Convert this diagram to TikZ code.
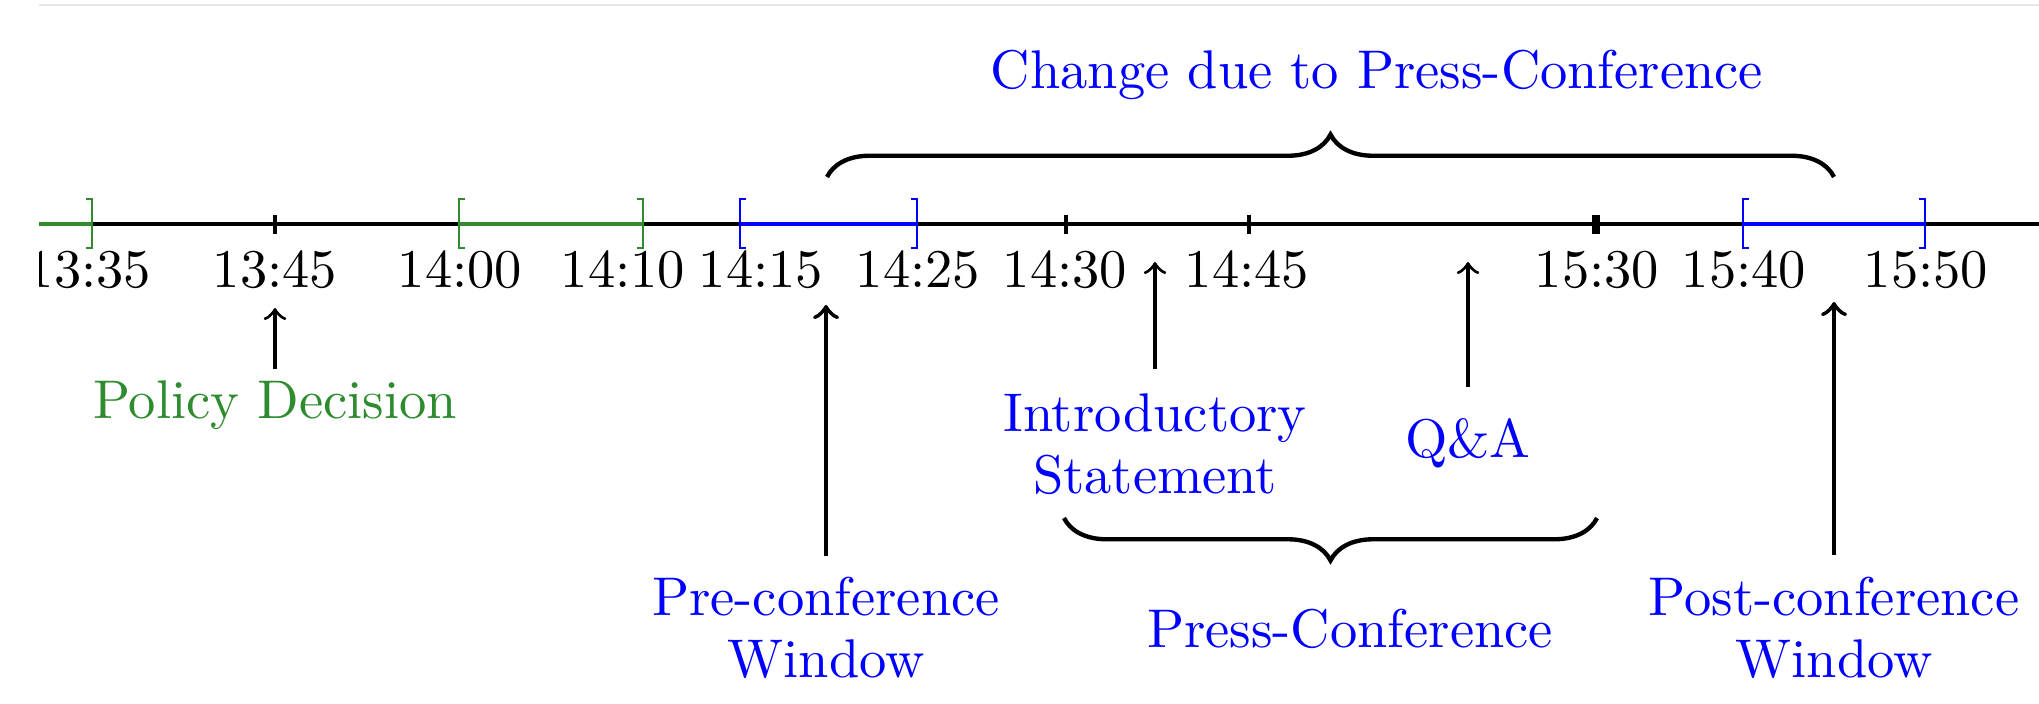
\documentclass[tikz,border=0pt]{standalone}
\usetikzlibrary{decorations.pathreplacing}
\definecolor{pcgreen}{RGB}{46,139,46}
\definecolor{pcblue}{RGB}{0,0,255}
\definecolor{toprule}{RGB}{230,230,230}

\begin{document}
\begin{tikzpicture}[x=0.1835pt, y={(0,-0.1835pt)},
  axisline/.style={line width=0.75pt},
  tickmark/.style={line width=0.7pt},
  bracketline/.style={line width=0.4pt},
  timelabel/.style={anchor=base, inner sep=0pt},
  note/.style={anchor=base, inner sep=0pt, align=center,
               font=\fontsize{10}{11.2}\selectfont},
  pointer/.style={->, line width=0.6pt},
  bigpointer/.style={->, line width=0.8pt},
  bracearc/.style={decorate, decoration={brace, amplitude=7.8pt}, line width=0.8pt},
  openbr/.pic={\draw[bracketline,#1] (6,-25) -- (0,-25) -- (0,24) -- (6,24);},
  closebr/.pic={\draw[bracketline,#1] (-6,-25) -- (0,-25) -- (0,24) -- (-6,24);},
]
\useasboundingbox (0,0) rectangle (2039,703);
\draw[toprule, line width=0.4pt] (39,5) -- (2039,5);

\begin{scope}
\clip (39,0) rectangle (2039,703);

% time axis
\draw[axisline] (0,224) -- (2039,224);

% observation windows
\draw[axisline, pcgreen] (0,224) -- (92,224);
\pic at (92,224) {closebr=pcgreen};
\draw[axisline, pcgreen] (459,224) -- (643,224);
\pic at (459,224) {openbr=pcgreen};
\pic at (643,224) {closebr=pcgreen};
\draw[axisline, pcblue] (740,224) -- (917,224);
\pic at (740,224) {openbr=pcblue};
\pic at (917,224) {closebr=pcblue};
\draw[axisline, pcblue] (1743,224) -- (1925,224);
\pic at (1743,224) {openbr=pcblue};
\pic at (1925,224) {closebr=pcblue};

% ticks
\draw[tickmark] (275,215) -- (275,234);
\draw[tickmark] (1066,215) -- (1066,234);
\draw[tickmark] (1249,215) -- (1249,234);
\draw[line width=1.5pt] (1596,215) -- (1596,234);

% time labels
\node[timelabel] (t1335) at (89,287) {13:35};
\node[timelabel] (t1345) at (275,287) {13:45};
\node[timelabel] (t1400) at (460,287) {14:00};
\node[timelabel] (t1410) at (623,287) {14:10};
\node[timelabel] (t1415) at (761,287) {14:15};
\node[timelabel] (t1425) at (918,287) {14:25};
\node[timelabel] (t1430) at (1065,287) {14:30};
\node[timelabel] (t1445) at (1247,287) {14:45};
\node[timelabel] (t1530) at (1597,287) {15:30};
\node[timelabel] (t1540) at (1744,287) {15:40};
\node[timelabel] (t1550) at (1926,287) {15:50};
\end{scope}

% event labels (base = baseline of the last line)
\node[note, text=pcgreen] (policy) at (275,418) {Policy Decision};
\node[note, text=pcblue] (pre) at (826,677) {Pre-conference\\Window};
\node[note, text=pcblue] (intro) at (1155,493) {Introductory\\Statement};
\node[note, text=pcblue] (qa) at (1468,457) {Q\&A};
\node[note, text=pcblue] (press) at (1350,647) {Press-Conference};
\node[note, text=pcblue] (post) at (1834,677) {Post-conference\\Window};
\node[note, text=pcblue] (change) at (1377,88) {Change due to Press-Conference};

% arrow heads on the axis
\coordinate (policyTip) at (275,308);
\coordinate (preTip) at (826,305);
\coordinate (introTip) at (1155,262);
\coordinate (qaTip) at (1468,262);
\coordinate (postTip) at (1834,302);

\draw[pointer, shorten <=1.8pt] (policy.north) -- (policyTip);
\draw[bigpointer, shorten <=3.7pt] (pre.north) -- (preTip);
\draw[pointer, shorten <=4.4pt] (intro.north) -- (introTip);
\draw[pointer, shorten <=5.5pt] (qa.north) -- (qaTip);
\draw[bigpointer, shorten <=4pt] (post.north) -- (postTip);

% braces
\coordinate (chgL) at (827,177);
\coordinate (chgR) at (1834,177);
\coordinate (pcL) at (1064,518);
\coordinate (pcR) at (1597,518);
\draw[bracearc] (chgL) -- (chgR);
\draw[bracearc] (pcR) -- (pcL);
\end{tikzpicture}
\end{document}
